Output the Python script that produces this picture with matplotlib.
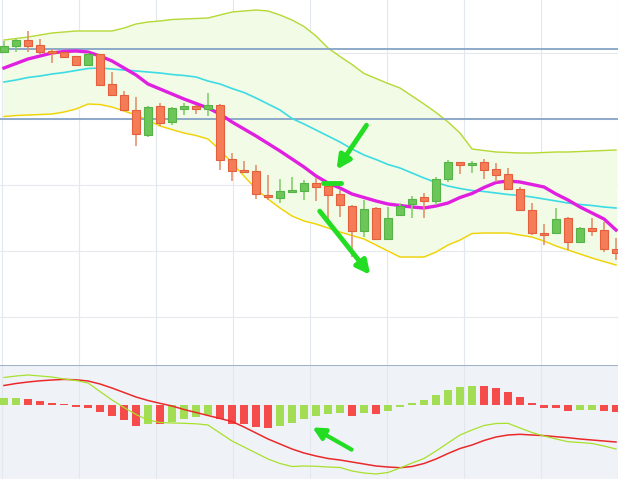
import numpy as np
import matplotlib
matplotlib.use("Agg")
import matplotlib.pyplot as plt

# candles (price units), one per bar
opens = [348, 354, 360, 355, 348.5, 348, 344, 335, 346, 316, 305, 290, 265, 294, 278, 291.5,
         294, 291, 295.3, 241, 230, 229, 205, 202, 208, 209, 217, 214, 206, 194, 169, 192,
         161, 185, 196, 203, 199, 221, 238, 235, 238, 231, 226, 211, 190, 167, 167, 182,
         158, 172, 170, 151]
closes = [354, 360, 354, 348, 347.5, 343, 335, 346, 315, 305, 290, 266, 293, 277, 292, 294,
          291, 295, 240, 229, 228, 206, 203, 209, 210, 217, 213, 205, 195, 169, 191, 161,
          182, 194, 201, 199, 221, 238, 235, 237, 230, 225, 211, 190, 167, 165, 181, 158,
          172, 169, 151, 147]
highs = [359, 361, 369, 361, 351, 348, 344, 347, 346, 328, 309, 303, 294, 297, 293, 297,
         295, 307, 296, 247, 239, 235, 225, 221, 223, 220, 222, 218, 210, 195, 200, 193,
         193, 197, 204, 207, 223, 240, 238, 239, 241, 237, 232, 213, 197, 176, 192, 183,
         173, 182, 178, 162]
lows = [347, 348, 348, 346, 337, 343, 335, 335, 314, 305, 289, 254, 263, 274, 275, 285,
        286, 284, 230, 219, 227, 201, 200, 197, 207, 200, 199, 177, 183, 143, 163, 160,
        160, 184, 182, 182, 195, 218, 226, 227, 221, 218, 210, 189, 165, 155, 166, 150,
        157, 164, 148, 140]

# bollinger bands and moving averages
bb_upper = [360, 361.5, 363, 365, 367, 368, 369, 369, 369, 369, 372, 376, 378, 379, 380.5, 381,
            381.5, 382, 385, 388, 389, 390, 389, 385, 380, 373.5, 364, 352, 343.5, 335.5, 326.5,
            321.5, 316.5, 312, 304, 296, 287.5, 278, 267, 251, 249.5, 248, 247.5, 247, 247,
            247.5, 248, 248, 248.5, 249, 249.5, 250]
bb_lower = [283.5, 284.5, 285, 285.5, 286, 288, 291, 296, 295.5, 293, 289, 285, 279.5, 274,
            270.5, 267, 264.5, 261, 250, 237, 224, 211, 201, 192, 184, 179, 176, 172, 168,
            164.5, 161, 155, 149, 143, 143, 143, 148, 155, 160, 166.5, 167, 167, 167, 165, 163,
            159, 154, 150, 146, 142, 138.5, 135]
ma_slow = [318, 320, 322.5, 324, 326, 327.5, 329.5, 331.5, 332, 331, 330, 329, 328, 327, 325.5,
           324.5, 323, 319, 316, 311.5, 307.5, 302, 296, 290, 281.5, 276, 270, 264, 258, 251,
           245, 240.5, 235.5, 232, 227, 222, 217.5, 214, 211.5, 209.5, 208.5, 207, 205.5,
           204.5, 203, 201, 199, 197, 195.5, 194.5, 193, 192]
ma_fast = [332, 336.5, 341, 344, 347, 348.5, 349, 348, 344, 339, 332, 325, 316, 311, 306, 301,
           296.5, 292, 286, 278, 271, 264, 256.5, 249, 241, 233, 224, 217, 212, 206, 202.5,
           199, 196, 194.5, 193, 192, 194, 197, 202.5, 206.5, 212.5, 217.5, 219, 218, 215.5,
           213, 206, 200, 193, 187, 181, 170]
levels = [351, 281]

# MACD panel
macd_line = [27.8, 29.3, 30.3, 29.3, 28.3, 26.3, 24.8, 22.3, 13.8, 5.3, -2.2, -9.2, -14.7, -17.2,
             -17.7, -18.0, -18.5, -19.7, -27.7, -35.7, -41.7, -47.7, -53.7, -58.2, -61.2, -60.7,
             -61.0, -61.7, -62.2, -65.7, -67.7, -68.7, -67.2, -62.7, -57.7, -53.2, -45.7, -37.7,
             -29.7, -24.7, -20.2, -18.2, -18.0, -22.7, -27.2, -30.7, -33.7, -36.4, -37.2, -38.2,
             -40.7, -43.7]
signal_line = [19.8, 21.8, 23.3, 24.5, 25.3, 25.9, 25.5, 24.3, 21.3, 17.3, 12.8, 8.3, 4.8, 2.0,
               -0.7, -4.2, -7.2, -10.2, -13.2, -16.2, -21.7, -27.7, -33.7, -38.7, -43.7, -47.7,
               -50.7, -53.2, -54.7, -56.7, -58.7, -60.7, -61.7, -62.4, -61.2, -58.2, -53.7,
               -48.2, -43.2, -39.7, -35.2, -31.7, -29.7, -29.0, -29.7, -30.3, -31.4, -32.4,
               -33.7, -34.7, -35.7, -36.7]
hist = [7, 7.3, 6.7, 4.7, 2.7, 1, -2, -2.3, -7, -10.7, -15, -20.3, -18.3, -19, -17, -13.3, -11.3,
        -9.7, -14, -18.7, -19, -21.7, -22.7, -20.7, -17.7, -14, -10.7, -8.7, -8, -10.3, -7.7,
        -8.7, -6, -1.3, 2.7, 5.3, 10.7, 15.3, 18, 19.7, 19, 17.3, 13.7, 8.3, 2, -2.3, -2.7,
        -5.7, -4.7, -4.3, -6, -7]

x = np.arange(len(opens))
W, H = 618, 479
px = lambda p: (p - 4) / 12.0   # pixel column -> bar index

fig = plt.figure(figsize=(W / 100, H / 100), dpi=100)
ax = fig.add_axes([0, 114 / H, 1, 365 / H])
am = fig.add_axes([0, 0, 1, 114 / H])

for a in (ax, am):
    a.set_xlim(px(0), px(W))
    a.set_xticks(px(np.arange(2, W + 1, 77)))
    a.grid(axis="x", color="#e3e8ee", lw=0.8)
    a.tick_params(left=False, bottom=False, labelleft=False, labelbottom=False)
    for s in a.spines.values():
        s.set_visible(False)
    a.set_axisbelow(True)

# main panel
ax.set_ylim(35, 400)
ax.set_yticks([347, 281, 215, 149, 83])
ax.grid(axis="y", color="#e6eaee", lw=0.8)
ax.fill_between(x, bb_lower, bb_upper, color="#f1fbe6", zorder=1)
ax.plot(x, bb_upper, color="#b5d935", lw=1, zorder=2)
ax.plot(x, bb_lower, color="#f2d200", lw=1, zorder=2)
for lv in levels:
    ax.axhline(lv, color="#86a3c6", lw=1.3, zorder=2)
ax.plot(x, ma_slow, color="#3ddbe3", lw=1.2, zorder=3)
ax.plot(x, ma_fast, color="#e01fe0", lw=2.4, zorder=3)

o = np.array(opens); c = np.array(closes)
up = c >= o
wick_col = np.where(up, "#84cf6c", "#e3926f")
ax.vlines(x, lows, highs, colors=wick_col, lw=1.2, zorder=4)
body_b = np.minimum(o, c)
body_h = np.maximum(np.abs(c - o), 1.5)
ax.bar(x[up], body_h[up], 0.68, bottom=body_b[up], color="#6cc658", edgecolor="#55b347",
       lw=0.8, zorder=5)
ax.bar(x[~up], body_h[~up], 0.68, bottom=body_b[~up], color="#f47c56", edgecolor="#e2603e",
       lw=0.8, zorder=5)

# annotations
green = "#22dd22"
ax.annotate("", xy=(px(335), 228), xytext=(px(368), 277),
            arrowprops=dict(arrowstyle="-|>", color=green, lw=3.5, mutation_scale=20), zorder=6)
ax.annotate("", xy=(px(372), 123), xytext=(px(318), 191),
            arrowprops=dict(arrowstyle="-|>", color=green, lw=3.5, mutation_scale=20), zorder=6)
ax.plot([px(323), px(341)], [217, 217], color=green, lw=3.5, solid_capstyle="round", zorder=6)

# MACD panel
am.set_facecolor("#eff3f8")
am.set_ylim(-73.7, 40.3)
am.axhline(40.3, color="#9fb0c8", lw=1.5)
hcol = ["#a3dd53" if i == 0 or hist[i] >= hist[i - 1] else "#f64b4b" for i in range(len(hist))]
am.bar(x, hist, 0.6, color=hcol, zorder=2)
am.plot(x, signal_line, color="#ea2a2a", lw=1.1, zorder=3)
am.plot(x, macd_line, color="#a8e02c", lw=0.9, zorder=3)
am.annotate("", xy=(px(310), -20.7), xytext=(px(354), -45.7),
            arrowprops=dict(arrowstyle="-|>", color=green, lw=3, mutation_scale=18), zorder=6)

fig.savefig("out.png", dpi=100)
